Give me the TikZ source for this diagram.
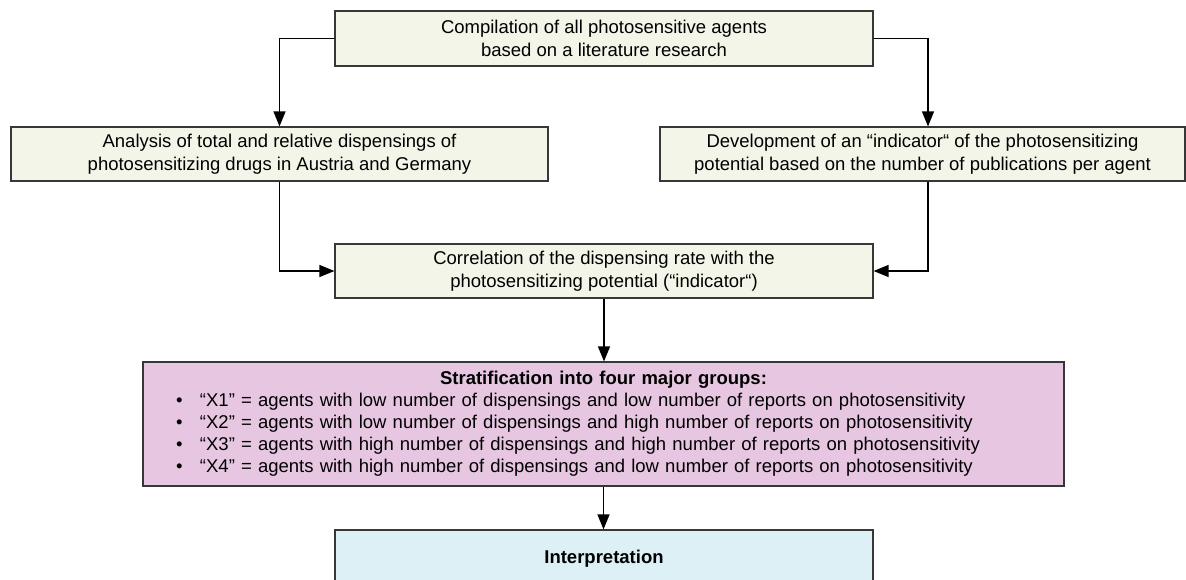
\documentclass[tikz,border=0pt]{standalone}
\usepackage{fontspec}
\setmainfont{Liberation Sans}
\usepackage{tikz}
\usetikzlibrary{arrows.meta}
\definecolor{boxline}{RGB}{55,55,55}
\definecolor{beige}{RGB}{244,245,233}
\definecolor{mauve}{RGB}{231,198,225}
\definecolor{paleblue}{RGB}{220,240,246}

\begin{document}
\begin{tikzpicture}[x=1pt, y=-1pt,
  every node/.style={draw=boxline, line width=1.2pt, fill=beige, inner sep=0pt,
    align=center, font=\fontsize{18.5}{23}\selectfont},
  link/.style={-{Triangle[length=15pt,width=12pt]}, line width=1.3pt, black}]
\useasboundingbox (0,0) rectangle (1186,580);
\begin{scope}
\clip (0,0) rectangle (1186,580);
\node[minimum width=538pt, minimum height=55pt] (comp) at (604,38.5)
  {Compilation of all photosensitive agents\\based on a literature research};
\node[minimum width=537pt, minimum height=54pt] (ana) at (279.5,154)
  {Analysis of total and relative dispensings of\\photosensitizing drugs in Austria and Germany};
\node[minimum width=525pt, minimum height=54pt] (dev) at (922.5,154)
  {Development of an “indicator“ of the photosensitizing\\potential based on the number of publications per agent};
\node[minimum width=538pt, minimum height=54pt] (corr) at (604,271)
  {Correlation of the dispensing rate with the\\photosensitizing potential (“indicator“)};
\node[fill=mauve, minimum width=921pt, minimum height=124pt, text width=855pt, align=left,
  font=\fontsize{18.5}{22}\selectfont] (strat) at (603.5,424)
  {{\centering\textbf{Stratification into four major groups:}\par}
   \makebox[24pt][l]{\textbullet}“X1” = agents with low number of dispensings and low number of reports on photosensitivity\par
   \makebox[24pt][l]{\textbullet}“X2” = agents with low number of dispensings and high number of reports on photosensitivity\par
   \makebox[24pt][l]{\textbullet}“X3” = agents with high number of dispensings and high number of reports on photosensitivity\par
   \makebox[24pt][l]{\textbullet}“X4” = agents with high number of dispensings and low number of reports on photosensitivity};
\node[fill=paleblue, minimum width=538pt, minimum height=58pt] (interp) at (604,559)
  {\textbf{Interpretation}};
\end{scope}

\draw[link] (comp.west) -| (ana.north);
\draw[link] (comp.east) -| ([xshift=5.5pt]dev.north);
\draw[link] (ana.south) |- (corr.west);
\draw[link] ([xshift=5.5pt]dev.south) |- (corr.east);
\draw[link] (corr.south) -- (corr.south |- strat.north);
\draw[link] (strat.south) -- (strat.south |- interp.north);
\end{tikzpicture}
\end{document}
